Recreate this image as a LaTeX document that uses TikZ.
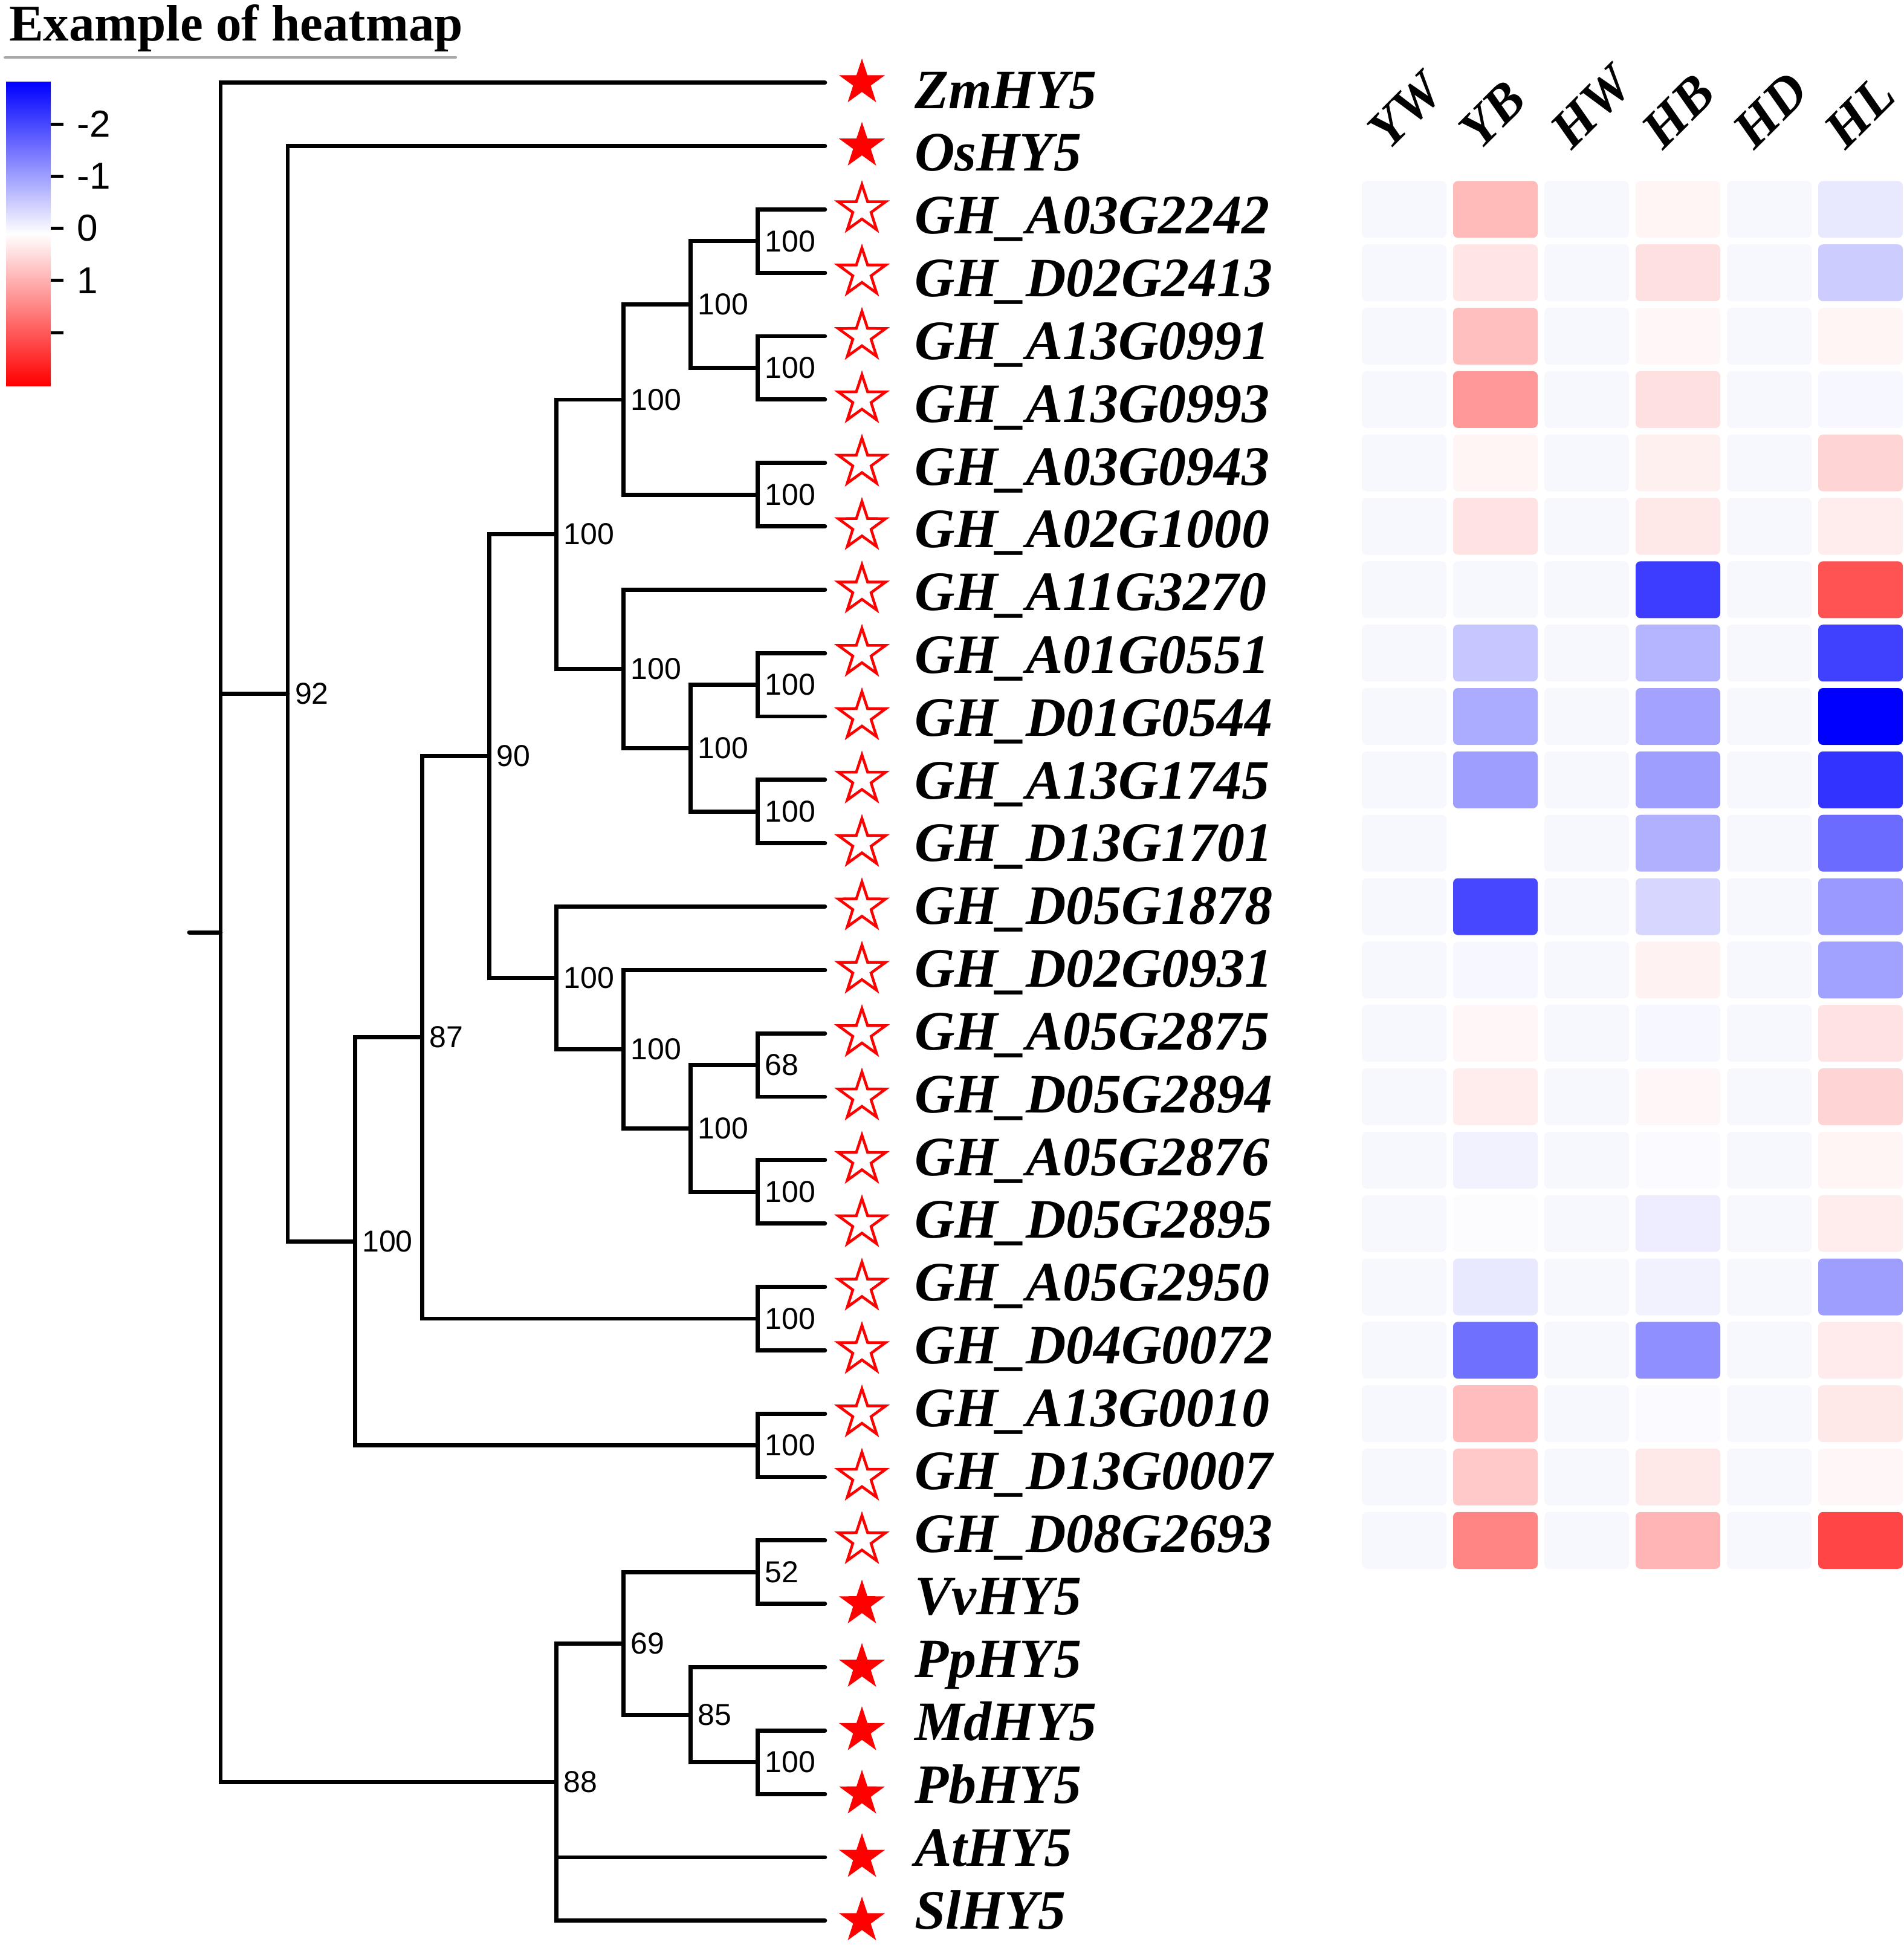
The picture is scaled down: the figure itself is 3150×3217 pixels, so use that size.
\documentclass[tikz,border=0pt]{standalone}
\usepackage{fontspec}
\setmainfont{Liberation Serif}
\setsansfont{Liberation Sans}
\usepackage{tikz}
\usetikzlibrary{shapes.geometric,positioning}
\definecolor{pale}{HTML}{F7F8FE}
\definecolor{rulegrey}{HTML}{A8A8A8}
\tikzset{branch/.style={line width=1.35pt,line cap=round},
  fullstar/.style={star,star points=5,star point ratio=2.6,minimum size=16pt,inner sep=0pt,fill=red},
  openstar/.style={star,star points=5,star point ratio=2.6,minimum size=16.5pt,inner sep=0pt,draw=red,line width=0.9pt},
  leaflab/.style={anchor=base west,inner sep=0pt,font=\fontsize{18.4}{18.4}\selectfont\bfseries\itshape},
  boot/.style={inner sep=0pt,font=\sffamily\fontsize{10}{10}\selectfont},
  colhead/.style={anchor=base west,rotate=45,inner sep=0pt,font=\fontsize{17.6}{17.6}\selectfont\bfseries\itshape},
  cell/.style={rectangle,rounded corners=1.6pt,minimum width=28pt,minimum height=18.8pt,inner sep=0pt},
  cblab/.style={anchor=west,inner sep=0pt,font=\sffamily\fontsize{12.4}{12.4}\selectfont}}

\begin{document}
\begin{tikzpicture}[x=0.2pt,y=-0.2pt]
        \useasboundingbox (0,0) rectangle (3150,3217);

        % title and colour key
        \node[anchor=base west,inner sep=0pt,font=\fontsize{17}{17}\selectfont\bfseries] (title) at (14,67) {Example of heatmap};
        \draw[rulegrey,line width=0.85pt,line cap=round] (8,95) -- (754,95);
        \shade[top color=blue,bottom color=red,middle color=white] (10,135) rectangle (84,638);
        \foreach \v [count=\k from 0] in {-2,-1,0,1,{}} {
            \pgfmathsetmacro{\ty}{205+86.3*\k}
            \draw[line width=1pt] (84,\ty) -- (105,\ty);
            \node[cblab] (key\k) at (127,\ty) {\v};
        }

        % leaves
        \foreach \name/\kind [count=\i from 0] in {ZmHY5/fullstar,OsHY5/fullstar,
            GH\_A03G2242/openstar,GH\_D02G2413/openstar,GH\_A13G0991/openstar,GH\_A13G0993/openstar,
            GH\_A03G0943/openstar,GH\_A02G1000/openstar,GH\_A11G3270/openstar,GH\_A01G0551/openstar,
            GH\_D01G0544/openstar,GH\_A13G1745/openstar,GH\_D13G1701/openstar,GH\_D05G1878/openstar,
            GH\_D02G0931/openstar,GH\_A05G2875/openstar,GH\_D05G2894/openstar,GH\_A05G2876/openstar,
            GH\_D05G2895/openstar,GH\_A05G2950/openstar,GH\_D04G0072/openstar,GH\_A13G0010/openstar,
            GH\_D13G0007/openstar,GH\_D08G2693/openstar,
            VvHY5/fullstar,PpHY5/fullstar,MdHY5/fullstar,PbHY5/fullstar,AtHY5/fullstar,SlHY5/fullstar} {
            \pgfmathsetmacro{\ly}{136.7+104.83*\i}
            \pgfmathsetmacro{\by}{179+103.83*\i}
            \coordinate (tip\i) at (1364.9,\ly);
            \node[\kind] (star\i) at (1426,\ly) {};
            \node[leaflab] (name\i) at (1512,\by) {\name};
        }

        % inner nodes
        \coordinate (root) at (365,1542.1);
        \coordinate (stub) at (313,1542.1);
        \coordinate (ca) at (1253.8,398.8);
        \coordinate (cb) at (1253.8,608.5);
        \coordinate (cc) at (1142.7,503.6);
        \coordinate (cd) at (1253.8,818.1);
        \coordinate (ce) at (1031.6,660.9);
        \coordinate (cf) at (1253.8,1132.6);
        \coordinate (cg) at (1253.8,1342.3);
        \coordinate (ch) at (1142.7,1237.4);
        \coordinate (ci) at (1031.6,1106.4);
        \coordinate (cj) at (920.5,883.6);
        \coordinate (ck) at (1253.8,1761.6);
        \coordinate (cl) at (1253.8,1971.2);
        \coordinate (cm) at (1142.7,1866.4);
        \coordinate (cn) at (1031.6,1735.4);
        \coordinate (co) at (920.5,1617.5);
        \coordinate (cp) at (809.4,1250.5);
        \coordinate (cq) at (1253.8,2180.9);
        \coordinate (cr) at (698.3,1715.7);
        \coordinate (cs) at (1253.8,2390.5);
        \coordinate (ct) at (587.2,2053.1);
        \coordinate (cu) at (476.1,1147.3);
        \coordinate (cv) at (1253.8,2600.2);
        \coordinate (cw) at (1253.8,2914.7);
        \coordinate (cx) at (1142.7,2836.1);
        \coordinate (cy) at (1031.6,2718.2);
        \coordinate (cz) at (920.5,2947.5);

        % branches
        \draw[branch] (stub) -- (root);
        \foreach \p/\c in {root/tip0,root/cu,root/cz,cu/tip1,cu/ct,ct/cr,ct/cs,cr/cp,cr/cq,
            cp/cj,cp/co,cj/ce,cj/ci,ce/cc,ce/cd,cc/ca,cc/cb,ca/tip2,ca/tip3,cb/tip4,cb/tip5,
            cd/tip6,cd/tip7,ci/tip8,ci/ch,ch/cf,ch/cg,cf/tip9,cf/tip10,cg/tip11,cg/tip12,
            co/tip13,co/cn,cn/tip14,cn/cm,cm/ck,cm/cl,ck/tip15,ck/tip16,cl/tip17,cl/tip18,
            cq/tip19,cq/tip20,cs/tip21,cs/tip22,cz/cy,cz/tip28,cz/tip29,cy/cv,cy/cx,
            cv/tip23,cv/tip24,cx/tip25,cx/cw,cw/tip26,cw/tip27}
            \draw[branch] (\p) |- (\c);

        % bootstrap values
        \foreach \n/\v in {ca/100,cb/100,cc/100,cd/100,ce/100,cf/100,cg/100,ch/100,ci/100,
            cj/100,ck/68,cl/100,cm/100,cn/100,co/100,cp/90,cq/100,cr/87,cs/100,ct/100,
            cu/92,cv/52,cw/100,cx/85,cy/69,cz/88}
            \node[boot,right=2.2pt of \n] (bs-\n) {\v};

        % heatmap
        \foreach \h [count=\j from 0] in {YW,YB,HW,HB,HD,HL}
            \node[colhead] (head\h) at (2298+151*\j,250) {\h};
        \foreach \row [count=\i from 2] in {
            {pale,red!27,pale,red!4,pale,blue!9},
            {pale,red!10,pale,red!12,pale,blue!20},
            {pale,red!25,pale,red!3,pale,red!4},
            {pale,red!40,pale,red!12,pale,blue!3},
            {pale,red!4,pale,red!6,pale,red!17},
            {pale,red!11,pale,red!9,pale,red!7},
            {pale,pale,pale,blue!76,pale,red!68},
            {pale,blue!22,pale,blue!29,pale,blue!75},
            {pale,blue!33,pale,blue!36,pale,blue},
            {pale,blue!38,pale,blue!38,pale,blue!80},
            {pale,white,pale,blue!31,pale,blue!58},
            {pale,blue!72,pale,blue!16,pale,blue!40},
            {pale,blue!3,pale,red!5,pale,blue!37},
            {pale,red!3,pale,blue!3,pale,red!11},
            {pale,red!7,pale,red!3,pale,red!17},
            {pale,blue!5,pale,blue!2,pale,red!4},
            {pale,blue!1,pale,blue!7,pale,red!7},
            {pale,blue!9,pale,blue!5,pale,blue!38},
            {pale,blue!56,pale,blue!44,pale,red!8},
            {pale,red!26,pale,blue!2,pale,red!9},
            {pale,red!21,pale,red!9,pale,red!3},
            {pale,red!48,pale,red!29,pale,red!73}} {
            \pgfmathsetmacro{\cy}{136.7+104.83*\i}
            \foreach \c [count=\j from 0] in \row
                \node[cell,fill=\c] (hm\i-\j) at (2323+151*\j,\cy) {};
        }
    \end{tikzpicture}
\end{document}
